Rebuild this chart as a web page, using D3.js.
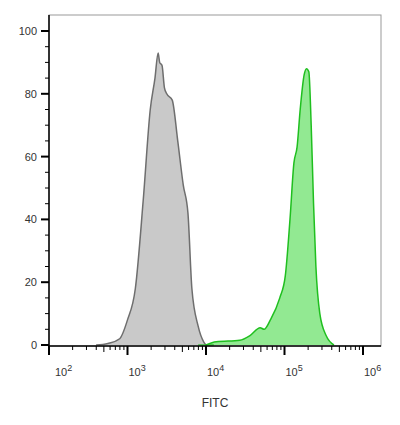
<!DOCTYPE html><html><head><script src="https://d3js.org/d3.v7.min.js"></script>
<style>body{margin:0;background:#fff}</style></head><body><svg width="400" height="425"></svg>
<script>
const grayLog=[2.6,2.75,2.9,3.0,3.1,3.2,3.29,3.35,3.39,3.41,3.44,3.47,3.5,3.57,3.64,3.71,3.77,3.82,3.9,3.97,4.0];
const grayVal=[0,0.5,2,8,18,46,75,85,93,90,89,82,80,78,65,51,42,18,6,1,0];
const greenLog=[4.0,4.13,4.43,4.56,4.69,4.74,4.82,4.94,5.01,5.07,5.12,5.16,5.2,5.25,5.28,5.31,5.34,5.37,5.4,5.45,5.53,5.63];
const greenVal=[0,1,1.5,3,5.5,5,8,15,22,40,58,63,75,86,88,87,70,45,25,10,3,0];
const yTicks=[0,20,40,60,80,100];
const xDecades=[2,3,4,5,6];
const svg=d3.select("svg");
const L=49,R=381,T=15,B=346;
const x=d3.scaleLinear().domain([2,2+(R-L)/78.5]).range([L,R]);
const y=d3.scaleLinear().domain([0,100]).range([345,31]);
svg.append("rect").attr("x",L).attr("y",T).attr("width",R-L).attr("height",B-T).attr("fill","none").attr("stroke","#999");
function area(ls,vs,fill,stroke){
 const d=ls.map((l,i)=>[l,vs[i]]);
 svg.append("path").datum(d).attr("d",d3.area().x(p=>x(p[0])).y0(y(0)).y1(p=>y(p[1])).curve(d3.curveMonotoneX)).attr("fill",fill);
 svg.append("path").datum(d).attr("d",d3.line().x(p=>x(p[0])).y(p=>y(p[1])).curve(d3.curveMonotoneX)).attr("fill","none").attr("stroke",stroke).attr("stroke-width",1.5);
}
area(grayLog,grayVal,"#c9c9c9","#6e6e6e");
area(greenLog,greenVal,"#92e992","#1fbf1f");
svg.append("line").attr("x1",x(3.9)).attr("x2",x(4.1)).attr("y1",y(0)).attr("y2",y(0)).attr("stroke","#1fbf1f").attr("stroke-width",1.2);
// axes
svg.append("line").attr("x1",L).attr("x2",L).attr("y1",T).attr("y2",B).attr("stroke","#000").attr("stroke-width",1.5);
svg.append("line").attr("x1",L).attr("x2",R).attr("y1",B).attr("y2",B).attr("stroke","#000").attr("stroke-width",1.5);
for(let v=0;v<=100;v+=5){const maj=v%20===0;
 svg.append("line").attr("x1",L-(maj?8:4)).attr("x2",L).attr("y1",y(v)).attr("y2",y(v)).attr("stroke","#000").attr("stroke-width",maj?2:1);}
yTicks.forEach(v=>svg.append("text").attr("x",L-12).attr("y",y(v)+4).attr("text-anchor","end").attr("font-family","Arial,Liberation Sans").attr("font-size",11).attr("fill","#333").text(v));
xDecades.forEach(d=>{
 svg.append("line").attr("x1",x(d)).attr("x2",x(d)).attr("y1",B).attr("y2",B+9).attr("stroke","#000").attr("stroke-width",2);
 if(d<6)for(let m=2;m<=9;m++){const lx=x(d+Math.log10(m));if(lx<R)svg.append("line").attr("x1",lx).attr("x2",lx).attr("y1",B).attr("y2",B+(m===5?6:4)).attr("stroke","#000").attr("stroke-width",1);}
 const t=svg.append("text").attr("x",x(d)+(d===2?6:1)).attr("y",B+30).attr("font-family","Arial,Liberation Sans").attr("font-size",11).attr("fill","#333");
 t.append("tspan").text("10");t.append("tspan").attr("dy",-5).attr("font-size",9).text(d);
});
svg.append("text").attr("x",215).attr("y",407).attr("text-anchor","middle").attr("font-family","Arial,Liberation Sans").attr("font-size",12).attr("fill","#333").text("FITC");
</script></body></html>
